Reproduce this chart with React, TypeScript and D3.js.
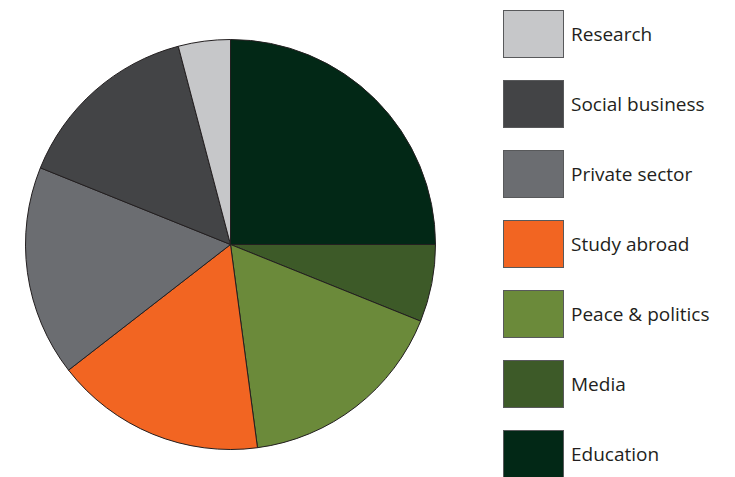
import { useRef, useEffect } from 'react';
import * as d3 from 'd3';

// clockwise from 12 o'clock
const categories = ['Education', 'Media', 'Peace & politics', 'Study abroad', 'Private sector', 'Social business', 'Research'];
const values = [25, 6.1, 16.8, 16.6, 16.6, 14.8, 4.1];
const colors = ['#022816', '#3d5a28', '#6b8a3a', '#f26522', '#6b6d71', '#434446', '#c6c7c9'];
const legendOrder = ['Research', 'Social business', 'Private sector', 'Study abroad', 'Peace & politics', 'Media', 'Education'];

const App: React.FC = () => {
  const ref = useRef<SVGSVGElement>(null);

  useEffect(() => {
    if (!ref.current) return;
    const svg = d3.select(ref.current);
    svg.selectAll('*').remove();

    const width = 735;
    const height = 477;
    const cx = 230.5;
    const cy = 244.5;
    const radius = 205;

    const color = d3.scaleOrdinal<string, string>().domain(categories).range(colors);

    const pie = d3.pie<number>().sort(null).value(d => d);
    const arc = d3.arc<d3.PieArcDatum<number>>().innerRadius(0).outerRadius(radius);

    const g = svg.append('g').attr('transform', `translate(${cx},${cy})`);
    g.selectAll('path')
      .data(pie(values))
      .join('path')
      .attr('d', arc)
      .attr('fill', (_, i) => color(categories[i]))
      .attr('stroke', '#231f20')
      .attr('stroke-width', 1)
      .attr('stroke-linejoin', 'round');

    const y = d3.scaleBand().domain(legendOrder).range([0, 490]).paddingInner(0);
    const legend = svg.append('g').attr('transform', 'translate(503, 10)');
    const items = legend.selectAll('g')
      .data(legendOrder)
      .join('g')
      .attr('transform', d => `translate(0, ${y(d)})`);

    items.append('rect')
      .attr('x', 0.5)
      .attr('y', 0.5)
      .attr('width', 60)
      .attr('height', 47)
      .attr('fill', d => color(d))
      .attr('stroke', '#58595b')
      .attr('stroke-width', 1);

    items.append('text')
      .attr('x', 68)
      .attr('y', 24)
      .attr('dominant-baseline', 'central')
      .attr('font-family', '"Open Sans", sans-serif')
      .attr('font-size', 19)
      .attr('fill', '#231f20')
      .text(d => d);

    svg.attr('width', width).attr('height', height);
  }, []);

  return (
    <svg
      ref={ref}
      width={735}
      height={477}
      style={{ position: 'absolute', left: 0, top: 0, background: '#fff' }}
    />
  );
};

export default App;
